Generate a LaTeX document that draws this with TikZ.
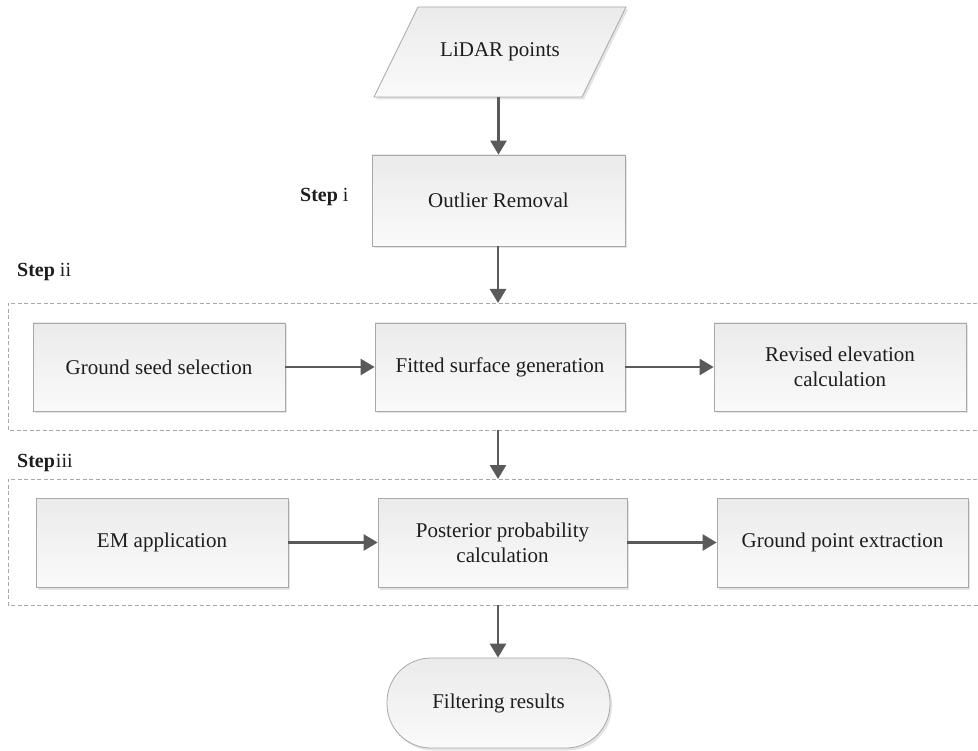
\documentclass[tikz,border=0pt]{standalone}
\usepackage{fontspec}
\setmainfont{Liberation Serif}
\usetikzlibrary{arrows.meta,shadows}
\definecolor{linegray}{HTML}{5A5A5A}
\definecolor{edgegray}{HTML}{A8A8A8}
\definecolor{dashgray}{HTML}{A8A8A8}
\definecolor{textdark}{HTML}{1E1E1E}
\begin{document}
\begin{tikzpicture}[x=1pt,y=-1pt,
  box/.style={draw=edgegray, line width=0.8pt, top color=black!8, bottom color=black!2,
    drop shadow={shadow xshift=2pt, shadow yshift=-2.5pt, opacity=0.3, fill=black!35},
    font=\fontsize{21}{25}\selectfont, text=textdark, align=center, inner sep=0pt},
  flow/.style={draw=linegray, line width=2.6pt, -{Triangle[length=14pt,width=16pt]}},
  group/.style={draw=dashgray, line width=0.8pt, dash pattern=on 4pt off 2.5pt},
  steplabel/.style={font=\fontsize{20}{24}\selectfont, text=textdark, anchor=west, inner sep=0pt}]
\useasboundingbox[fill=white] (0,0) rectangle (978,751);

% input data (parallelogram)
\path[draw=edgegray, line width=0.8pt, top color=black!8, bottom color=black!2,
  drop shadow={shadow xshift=2pt, shadow yshift=-2.5pt, opacity=0.3, fill=black!35}]
  (418,7) -- (626,7) -- (582,97) -- (374,97) -- cycle;
\node (lidar) [minimum width=208pt, minimum height=90pt, inner sep=0pt,
  font=\fontsize{21}{25}\selectfont, text=textdark] at (500,52) {LiDAR points};

% step i
\node (outlier) [box, minimum width=253pt, minimum height=91pt] at (498.5,200.5) {Outlier Removal};
\node (lbl1) [steplabel] at (300,197) {\bfseries Step\ \mdseries i};

% step ii
\node (lbl2) [steplabel] at (17,272) {\bfseries Step\ \mdseries ii};
\draw[group] (990,303) -- (8,303) -- (8,430) -- (990,430);
\coordinate (g1top) at (498,303);
\coordinate (g1bot) at (498,430);
\node (seed)    [box, minimum width=252pt, minimum height=88pt] at (159,367) {Ground seed selection};
\node (fitted)  [box, minimum width=250pt, minimum height=88pt] at (500,367) {Fitted surface generation};
\node (revised) [box, minimum width=252pt, minimum height=88pt] at (840,367) {Revised elevation\\calculation};

% step iii
\node (lbl3) [steplabel] at (17,463) {\bfseries Step\hspace{1pt}\mdseries iii};
\draw[group] (990,479) -- (8,479) -- (8,605) -- (990,605);
\coordinate (g2top) at (498,479);
\coordinate (g2bot) at (498,605);
\node (em)        [box, minimum width=252pt, minimum height=89pt] at (162,542.5) {EM application};
\node (posterior) [box, minimum width=249pt, minimum height=89pt] at (502.5,542.5) {Posterior probability\\calculation};
\node (extract)   [box, minimum width=251pt, minimum height=89pt] at (842.5,542.5) {Ground point extraction};

% output
\node (result) [box, minimum width=223pt, minimum height=90pt, rounded corners=44pt] at (498.5,703) {Filtering results};

% connectors
\draw[flow] (lidar.south -| outlier.north) -- (outlier.north);
\draw[flow] (outlier.south -| g1top) -- (g1top);
\draw[flow] (g1bot) -- (g2top);
\draw[flow] (g2bot) -- (g2bot |- result.north);
\draw[flow] (seed) -- (fitted);
\draw[flow] (fitted) -- (revised);
\draw[flow] (em) -- (posterior);
\draw[flow] (posterior) -- (extract);
\end{tikzpicture}
\end{document}
